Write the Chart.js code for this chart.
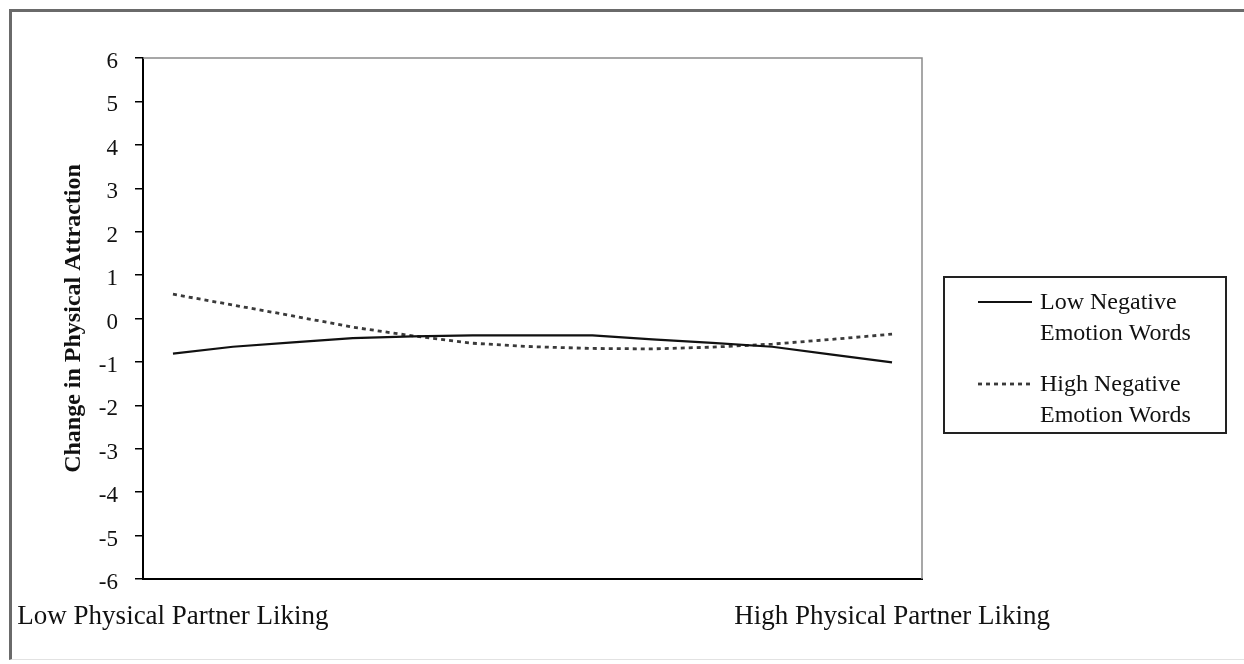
<!DOCTYPE html>
<html>
<head>
<meta charset="utf-8">
<script src="https://cdn.jsdelivr.net/npm/chart.js@4/dist/chart.umd.min.js"></script>
<style>
  html, body { margin: 0; padding: 0; background: #ffffff; }
  #wrap { position: relative; width: 1244px; height: 664px; overflow: hidden; background: #fff; }
  #frame { position: absolute; left: 9px; top: 9px; width: 1300px; height: 647px;
           border-left: 3px solid #6a6a6a; border-top: 3px solid #6a6a6a; border-bottom: 1px solid #e2e2e2; }
  #c { position: absolute; left: 0; top: 0; }
</style>
</head>
<body>
<div id="wrap">
  <div id="frame"></div>
  <canvas id="c" width="1244" height="664" style="width:1244px;height:664px"></canvas>
</div>
<script>
// ---- data ----
const categories = ["Low Physical Partner Liking", "", "", "", "", "", "", "", "", "", "", "", "High Physical Partner Liking"];
const lowNegativeEmotion = [-0.81, -0.65, -0.55, -0.45, -0.41, -0.39, -0.39, -0.39, -0.48, -0.56, -0.65, -0.83, -1.01];
const highNegativeEmotion = [0.56, 0.31, 0.06, -0.20, -0.40, -0.57, -0.65, -0.69, -0.70, -0.66, -0.59, -0.48, -0.36];
const seriesNames = ["Low Negative\nEmotion Words", "High Negative\nEmotion Words"];
const yTicks = [6, 5, 4, 3, 2, 1, 0, -1, -2, -3, -4, -5, -6];
const yTitle = "Change in Physical Attraction";

const SERIF = "'Liberation Serif', 'Times New Roman', 'DejaVu Serif', serif";

const plotFrame = {
  id: 'plotFrame',
  beforeDatasetsDraw(chart) {
    const {ctx, chartArea: a} = chart;
    ctx.save();
    ctx.strokeStyle = '#8a8a8a';
    ctx.lineWidth = 1.5;
    ctx.beginPath();
    ctx.moveTo(a.left, a.top);
    ctx.lineTo(a.right, a.top);
    ctx.lineTo(a.right, a.bottom);
    ctx.stroke();
    ctx.restore();
  }
};

const boxLegend = {
  id: 'boxLegend',
  afterDraw(chart) {
    const {ctx, chartArea: a} = chart;
    const bx = a.right + 22, by = 277, bw = 282, bh = 156;
    ctx.save();
    ctx.strokeStyle = '#222';
    ctx.lineWidth = 2;
    ctx.strokeRect(bx, by, bw, bh);
    ctx.font = '24px ' + SERIF;
    ctx.fillStyle = '#111';
    ctx.textBaseline = 'middle';
    ctx.textAlign = 'left';
    chart.data.datasets.forEach((ds, i) => {
      const y0 = by + 26 + i * 82;
      ctx.save();
      ctx.strokeStyle = ds.borderColor;
      ctx.lineWidth = ds.borderWidth;
      ctx.setLineDash(ds.borderDash || []);
      ctx.beginPath();
      ctx.moveTo(bx + 34, y0 - 1);
      ctx.lineTo(bx + 88, y0 - 1);
      ctx.stroke();
      ctx.restore();
      ds.label.split('\n').forEach((line, j) => {
        ctx.fillText(line, bx + 96, y0 + j * 31);
      });
    });
    ctx.restore();
  }
};

new Chart(document.getElementById('c'), {
  type: 'line',
  data: {
    labels: categories,
    datasets: [
      { label: seriesNames[0], data: lowNegativeEmotion, borderColor: '#111', borderWidth: 2.2,
        pointRadius: 0, tension: 0, fill: false },
      { label: seriesNames[1], data: highNegativeEmotion, borderColor: '#3a3a3a', borderWidth: 2.8,
        borderDash: [4, 4], pointRadius: 0, tension: 0, fill: false }
    ]
  },
  options: {
    responsive: false,
    animation: false,
    devicePixelRatio: 1,
    layout: { padding: { left: 10, top: 58, right: 322, bottom: 0 } },
    plugins: { legend: { display: false }, tooltip: { enabled: false } },
    scales: {
      x: {
        type: 'category',
        offset: true,
        border: { display: true, color: '#000', width: 2 },
        grid: { display: true, drawOnChartArea: false, drawTicks: false },
        ticks: { autoSkip: false, maxRotation: 0, minRotation: 0, padding: 22,
                 color: '#111', font: { family: SERIF, size: 27 } },
        afterFit(scale) { scale.height = 85; scale.paddingLeft = 0; scale.paddingRight = 0; }
      },
      y: {
        min: -6, max: 6,
        border: { display: true, color: '#000', width: 2 },
        grid: { drawOnChartArea: false, drawTicks: true, tickLength: 8, color: '#000', lineWidth: 1.5 },
        afterBuildTicks(scale) { scale.ticks = yTicks.map(v => ({ value: v })); },
        ticks: { padding: 17, labelOffset: 4, color: '#111', font: { family: SERIF, size: 23 } },
        title: { display: true, text: yTitle, color: '#111',
                 font: { family: SERIF, size: 24, weight: 'bold' }, padding: { top: 49, bottom: 0 } },
        afterFit(scale) { scale.width = 133; scale.paddingTop = 0; scale.paddingBottom = 0; }
      }
    }
  },
  plugins: [plotFrame, boxLegend]
});
</script>
</body>
</html>
